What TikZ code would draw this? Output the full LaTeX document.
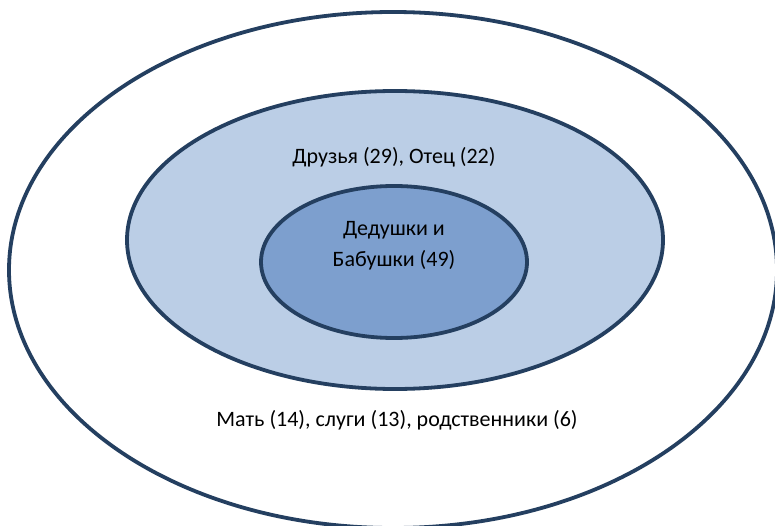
\documentclass[tikz,border=0pt]{standalone}
\usepackage{fontspec}
\setmainfont{Carlito}
\usepackage{tikz}
\usetikzlibrary{positioning}
\definecolor{ringblue}{RGB}{36,63,96}
\definecolor{lightfill}{RGB}{187,206,230}
\definecolor{midfill}{RGB}{125,159,206}
\tikzset{ring/.style={draw=ringblue,line width=3.8pt},
  lbl/.style={font=\fontsize{22}{31}\selectfont,align=center,inner sep=0pt}}

\begin{document}
\begin{tikzpicture}[x=1pt,y=-1pt]
    \coordinate (OuterC) at (393,270);
    \coordinate (MidC)   at (395,240);
    \coordinate (InnerC) at (394,262);

    \useasboundingbox (0,0) rectangle (775,526); % keeps the page size
    \clip (0,0) rectangle (775,526);

    % three rings, outside in
    \draw[ring,fill=white]     (OuterC) ellipse [x radius=384, y radius=258];
    \draw[ring,fill=lightfill] (MidC)   ellipse [x radius=268, y radius=149];
    \draw[ring,fill=midfill]   (InnerC) ellipse [x radius=133, y radius=76];

    \node[lbl] (friends) at (394,157) {Друзья (29), Отец (22)};
    \node[lbl] (grand)   at (394,246) {Дедушки и\\Бабушки (49)};
    \node[lbl] (mother)  at (397,420) {Мать (14), слуги (13), родственники (6)};
\end{tikzpicture}
\end{document}
